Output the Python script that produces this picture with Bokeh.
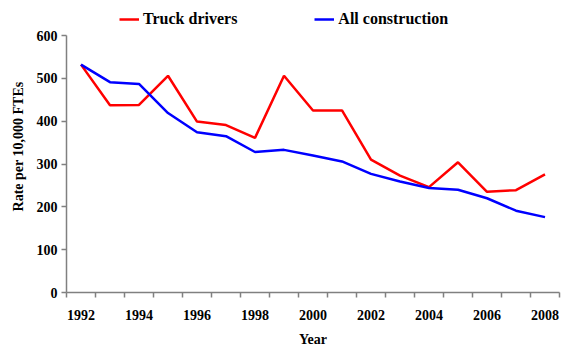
from bokeh.plotting import figure
from bokeh.models import FixedTicker, Range1d, Legend, LegendItem
from bokeh.embed import file_html
from bokeh.resources import INLINE

years = list(range(1992, 2009))
truck_drivers = [532, 437, 438, 506, 399, 391, 361, 506, 425, 425, 310, 273, 246, 304, 235, 239, 276]
all_construction = [532, 491, 487, 419, 374, 365, 328, 333, 320, 306, 277, 259, 244, 240, 220, 191, 176]
x_tick_labels = list(range(1992, 2009, 2))
y_ticks = [0, 100, 200, 300, 400, 500, 600]

FONT = "Liberation Serif"

# frame spans the full top of the figure so the legend can sit above the 600 line
p = figure(width=580, height=354, output_backend="svg", toolbar_location=None,
           x_range=Range1d(1991.5, 2008.5), y_range=Range1d(0, 600 * 292 / 257),
           min_border_left=66, min_border_right=21, min_border_top=0, min_border_bottom=62)
p.outline_line_color = None
p.xgrid.visible = False
p.ygrid.visible = False
p.border_fill_color = "white"
p.background_fill_color = "white"

r1 = p.line(years, truck_drivers, line_color="#FF0000", line_width=2.5)
r2 = p.line(years, all_construction, line_color="#0000FF", line_width=2.5)

axis_color = "#808080"
# x axis
p.xaxis.ticker = FixedTicker(ticks=x_tick_labels, minor_ticks=[y + 0.5 for y in range(1991, 2009)])
p.xaxis.major_tick_out = 0
p.xaxis.major_tick_in = 0
p.xaxis.minor_tick_out = 5
p.xaxis.minor_tick_in = 0
p.xaxis.major_label_standoff = 12
p.xaxis.axis_label = "Year"
p.xaxis.axis_label_standoff = 9
# y axis
p.yaxis.ticker = FixedTicker(ticks=y_ticks)
p.yaxis.bounds = (0, 600)
p.yaxis.major_tick_out = 5
p.yaxis.major_tick_in = 0
p.yaxis.minor_tick_out = 0
p.yaxis.minor_tick_in = 0
p.yaxis.major_label_standoff = 4
p.yaxis.axis_label = "Rate per 10,000 FTEs"
p.yaxis.axis_label_standoff = 8

for ax in (p.xaxis, p.yaxis):
    ax.axis_line_color = axis_color
    ax.axis_line_width = 1.5
    ax.major_tick_line_color = axis_color
    ax.minor_tick_line_color = axis_color
    ax.major_tick_line_width = 1.5
    ax.minor_tick_line_width = 1.5
    ax.major_label_text_font = FONT
    ax.major_label_text_font_style = "bold"
    ax.major_label_text_font_size = "14px"
    ax.major_label_text_color = "black"
    ax.axis_label_text_font = FONT
    ax.axis_label_text_font_style = "bold"
    ax.axis_label_text_font_size = "14px"
    ax.axis_label_text_color = "black"

legend = Legend(items=[LegendItem(label="Truck drivers", renderers=[r1]),
                       LegendItem(label="All construction", renderers=[r2])],
                orientation="horizontal", location=(53, 264),
                label_text_font=FONT, label_text_font_style="bold",
                label_text_font_size="16px", label_text_color="black",
                glyph_width=20, glyph_height=16, label_standoff=4, spacing=77,
                padding=0, margin=0, border_line_alpha=0, background_fill_alpha=0)
p.add_layout(legend, "center")

open("out.html", "w").write(file_html(p, INLINE))
